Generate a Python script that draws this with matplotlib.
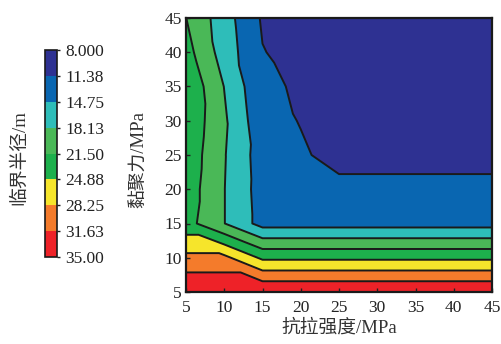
import numpy as np
import matplotlib
matplotlib.use("Agg")
import matplotlib.pyplot as plt
import matplotlib.tri as mtri
from matplotlib.colors import ListedColormap, BoundaryNorm

# ---- data ----
x_vals = [5, 10, 15, 20, 25, 30, 35, 40, 45]          # 抗拉强度 / MPa
y_vals = [5, 10, 15, 20, 25, 30, 35, 40, 45]          # 黏聚力 / MPa
# critical radius (m); one row per y value, columns follow x_vals
z_y5  = [35.0, 35.0, 35.0, 35.0, 35.0, 35.0, 35.0, 35.0, 35.0]
z_y10 = [29.1, 29.1, 24.25, 24.25, 24.25, 24.25, 24.25, 24.25, 24.25]
z_y15 = [22.8, 18.2, 13.5, 13.5, 13.5, 13.5, 13.5, 13.5, 13.5]
z_y20 = [23.36, 18.2, 13.27, 12.6, 12.07, 12.07, 12.07, 12.07, 12.07]
z_y25 = [23.79, 18.34, 13.06, 11.72, 10.5, 10.5, 10.5, 10.5, 10.5]
z_y30 = [24.26, 18.63, 12.37, 11.26, 10.2, 10.0, 9.8, 9.7, 9.6]
z_y35 = [24.44, 18.05, 11.82, 11.09, 9.9, 9.5, 9.2, 9.0, 8.9]
z_y40 = [22.78, 16.58, 11.5, 10.3, 9.5, 9.0, 8.7, 8.5, 8.3]
z_y45 = [21.55, 16.2, 11.0, 9.8, 9.2, 8.8, 8.5, 8.2, 8.0]

levels = [8.0, 11.375, 14.75, 18.125, 21.5, 24.875, 28.25, 31.625, 35.0]
level_labels = ["8.000", "11.38", "14.75", "18.13", "21.50", "24.88", "28.25", "31.63", "35.00"]
colors = ["#2E3192", "#0966B1", "#2EBDB9", "#4AB857", "#1DB04C", "#F6E52B", "#F47B2B", "#EE2228"]
x_ticks = [5, 10, 15, 20, 25, 30, 35, 40, 45]
y_ticks = [5, 10, 15, 20, 25, 30, 35, 40, 45]

# ---- build triangulation (anti-diagonal split of each grid cell) ----
Z = np.array([z_y5, z_y10, z_y15, z_y20, z_y25, z_y30, z_y35, z_y40, z_y45])
nx, ny = len(x_vals), len(y_vals)
XX, YY = np.meshgrid(x_vals, y_vals)
px, py, pz = XX.ravel(), YY.ravel(), Z.ravel()
idx = lambda i, j: j * nx + i
tris = []
for j in range(ny - 1):
    for i in range(nx - 1):
        tris.append([idx(i, j), idx(i + 1, j), idx(i, j + 1)])
        tris.append([idx(i + 1, j), idx(i + 1, j + 1), idx(i, j + 1)])
tri = mtri.Triangulation(px, py, np.array(tris))

cmap = ListedColormap(colors)
norm = BoundaryNorm(levels, cmap.N)

serif_cjk = ["Liberation Serif", "Noto Sans CJK SC"]
W, H = 501, 344

fig = plt.figure(figsize=(W / 100, H / 100), dpi=100)
ax = fig.add_axes([186 / W, 1 - 292 / H, (492 - 186) / W, (292 - 18) / H])
cf = ax.tricontourf(tri, pz, levels=levels, cmap=cmap, norm=norm)
ax.tricontour(tri, pz, levels=levels[1:-1], colors="#1a1a1a", linewidths=1.4)

ax.set_xlim(5, 45)
ax.set_ylim(5, 45)
ax.set_xticks(x_ticks)
ax.set_yticks(y_ticks)
ax.set_xticklabels([str(v) for v in x_ticks], family=serif_cjk, fontsize=12.5)
ax.set_yticklabels([str(v) for v in y_ticks], family=serif_cjk, fontsize=12.5)
ax.tick_params(direction="in", length=3, width=1, top=False, right=False, colors="#222222")
ax.tick_params(axis="x", pad=6)
ax.tick_params(axis="y", pad=3)
for s in ax.spines.values():
    s.set_linewidth(1.6)
    s.set_color("#1a1a1a")
ax.set_xlabel("抗拉强度/MPa", family=serif_cjk, fontsize=13.5, color="#333333", va="center")
ax.xaxis.set_label_coords(0.5, (292 - 328) / 274)
ax.set_ylabel("黏聚力/MPa", family=serif_cjk, fontsize=13.5, color="#333333", va="center")
ax.yaxis.set_label_coords((140 - 186) / 306, (292 - 159) / 274)

# ---- colorbar ----
cax = fig.add_axes([45 / W, 1 - 257 / H, 12 / W, (257 - 50) / H])
cb = fig.colorbar(cf, cax=cax, ticks=levels, drawedges=True)
cb.ax.invert_yaxis()
cb.ax.set_yticklabels(level_labels, family=serif_cjk, fontsize=12.5)
cb.ax.tick_params(direction="out", length=2, width=1, pad=4, colors="#222222")
cb.outline.set_linewidth(1.2)
cb.outline.set_edgecolor("#1a1a1a")
cb.dividers.set_color("#1a1a1a")
cb.dividers.set_linewidth(1.0)
fig.text(20 / W, 1 - 158 / H, "临界半径/m", rotation=90, va="center", ha="center",
         family=serif_cjk, fontsize=13.5, color="#333333")

fig.savefig("out.png", dpi=100)
